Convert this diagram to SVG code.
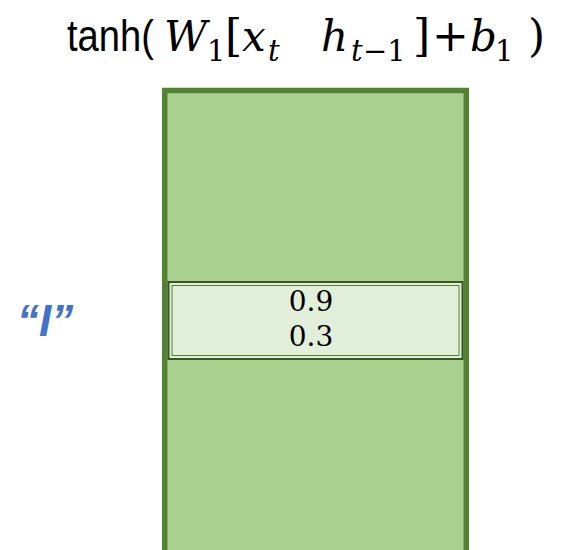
<svg xmlns="http://www.w3.org/2000/svg" width="561" height="550" viewBox="0 0 561 550">
<style>
.m{font-family:"DejaVu Serif","Liberation Serif",serif;font-style:italic;font-size:42px;fill:#000}
.r{font-family:"DejaVu Serif","Liberation Serif",serif;font-size:44px;fill:#000}
.s{font-family:"DejaVu Serif","Liberation Serif",serif;font-size:29px;fill:#000}
.si{font-family:"DejaVu Serif","Liberation Serif",serif;font-style:italic;font-size:29px;fill:#000}
.u{font-family:"Liberation Sans",sans-serif;font-size:44px;fill:#000}
.v{font-family:"DejaVu Serif","Liberation Serif",serif;font-size:28px;fill:#000;text-anchor:middle}
</style>
<g id="title">
<text class="u" x="67" y="51" textLength="87" lengthAdjust="spacingAndGlyphs">tanh(</text>
<text class="m" x="164" y="51">W</text>
<text class="s" x="207" y="61">1</text>
<text class="r" x="225" y="51">[</text>
<text class="m" x="242" y="51">x</text>
<text class="si" x="268" y="61">t</text>
<text class="m" x="321" y="51">h</text>
<text class="si" x="351" y="61">t</text><text class="s" x="363" y="61">−1</text>
<text class="r" x="413" y="51">]</text>
<text class="r" x="432" y="51">+</text>
<text class="m" x="470" y="51">b</text>
<text class="s" x="495" y="61">1</text>
<text class="r" x="528" y="51">)</text>
</g>
<g id="layer">
<rect x="164.7" y="90.5" width="301.6" height="470" fill="#A9D08E" stroke="#548235" stroke-width="5.5"/>
</g>
<g id="cell">
<rect x="168.5" y="282" width="294" height="77" fill="#E2EFDA" stroke="#385723" stroke-width="2"/>
<rect x="172" y="285.5" width="287" height="70" fill="none" stroke="#548235" stroke-width="1"/>
<text class="v" x="311" y="311">0.9</text>
<text class="v" x="311" y="346">0.3</text>
</g>
<g id="label">
<text x="17" y="336" font-family="Liberation Sans,sans-serif" font-weight="bold" font-style="italic" font-size="44" fill="#4472C4">“I”</text>
</g>
</svg>
